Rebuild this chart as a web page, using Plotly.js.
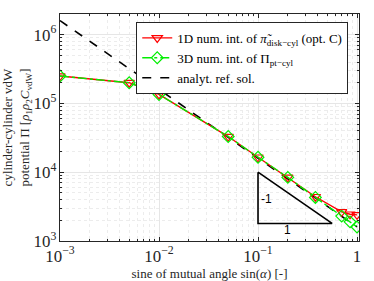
<!DOCTYPE html>
<html><head><meta charset="utf-8">
<script src="https://cdn.plot.ly/plotly-3.0.1.min.js"></script>
<style>body{margin:0;background:#fff}#c{width:374px;height:281px}</style>
</head><body><div id="c"></div>
<script>
const sinAlpha1D = [0.001, 0.005, 0.01, 0.05, 0.1, 0.2, 0.38, 0.7, 0.85, 1.0];
const pot1D = [2.5e5, 2.0e5, 1.35e5, 3.3e4, 1.65e4, 8.4e3, 4.4e3, 2.65e3, 2.45e3, 2.4e3];
const sinAlpha3D = [0.001, 0.005, 0.01, 0.05, 0.1, 0.2, 0.38, 0.7, 0.85, 1.0];
const pot3D = [2.5e5, 2.0e5, 1.35e5, 3.3e4, 1.65e4, 8.4e3, 4.3e3, 2.3e3, 1.9e3, 1.6e3];
const refX = [0.001, 1.0];
const refY = [1.6e6, 1.6e3];
const triX = [0.1, 0.1, 0.56, 0.1];
const triY = [1.0e4, 1.8e3, 1.8e3, 1.0e4];
const names = ['1D num. int. of <i>π̃</i><sub>disk−cyl</sub> (opt. C)', '3D num. int. of Π<sub>pt−cyl</sub>', 'analyt. ref. sol.'];

const F = 'Liberation Serif, Times New Roman, serif';
const traces = [
  {x: refX, y: refY, mode: 'lines', name: names[2], line: {color: '#000', dash: 'dash', width: 1.6}, legendrank: 3},
  {x: sinAlpha1D, y: pot1D, mode: 'lines+markers', name: names[0], line: {color: '#ff0000', width: 1.4},
   marker: {symbol: 'triangle-down-open', size: 9, color: '#ff0000', line: {width: 1.2}}, legendrank: 1},
  {x: sinAlpha3D, y: pot3D, mode: 'lines+markers', name: names[1], line: {color: '#00ee00', width: 1.4, dash: 'dashdot'},
   marker: {symbol: 'diamond-open', size: 9, color: '#00ee00', line: {width: 1.2}}, legendrank: 2},
  {x: triX, y: triY, mode: 'lines', showlegend: false, line: {color: '#000', width: 1.6}, hoverinfo: 'skip'}
];
const ax = {
  type: 'log', showline: true, mirror: 'ticks', linecolor: '#262626', linewidth: 1,
  ticks: 'inside', ticklen: 4, tickcolor: '#262626',
  showgrid: true, gridcolor: '#e6e6e6', gridwidth: 1,
  exponentformat: 'power', dtick: 1, zeroline: false,
  tickfont: {family: F, size: 13.5, color: '#262626'},
  minor: {showgrid: true, gridcolor: '#ececec', griddash: 'dot', ticks: 'inside', ticklen: 2, tickcolor: '#262626'}
};
const layout = {
  width: 374, height: 281,
  margin: {l: 60, r: 15, t: 14, b: 40},
  paper_bgcolor: '#fff', plot_bgcolor: '#fff',
  showlegend: true,
  xaxis: Object.assign({}, ax, {range: [-3, 0.02],
    title: {text: 'sine of mutual angle sin(<i>α</i>) [-]', font: {family: F, size: 13, color: '#262626'}, standoff: 3}}),
  yaxis: Object.assign({}, ax, {range: [3, 6.3],
    title: {text: 'cylinder-cylinder vdW<br>potential Π [<i>ρ</i><sub>1</sub><i>ρ</i><sub>2</sub><i>C</i><sub>vdW</sub>]', font: {family: F, size: 13, color: '#262626'}, standoff: 0}}),
  legend: {x: 0.255, y: 0.965, xanchor: 'left', yanchor: 'top', bgcolor: '#fff', bordercolor: '#262626', borderwidth: 1,
    font: {family: F, size: 13, color: '#000'}, tracegroupgap: 0, itemwidth: 30},
  annotations: [
    {x: Math.log10(0.102), y: Math.log10(4.1e3), xanchor: 'left', text: '-1', showarrow: false, font: {family: 'Liberation Sans, Arial, sans-serif', size: 12, color: '#000'}},
    {x: Math.log10(0.2), y: Math.log10(1.45e3), text: '1', showarrow: false, font: {family: 'Liberation Sans, Arial, sans-serif', size: 12, color: '#000'}}
  ]
};
Plotly.newPlot('c', traces, layout, {displayModeBar: false, staticPlot: true});
</script></body></html>
